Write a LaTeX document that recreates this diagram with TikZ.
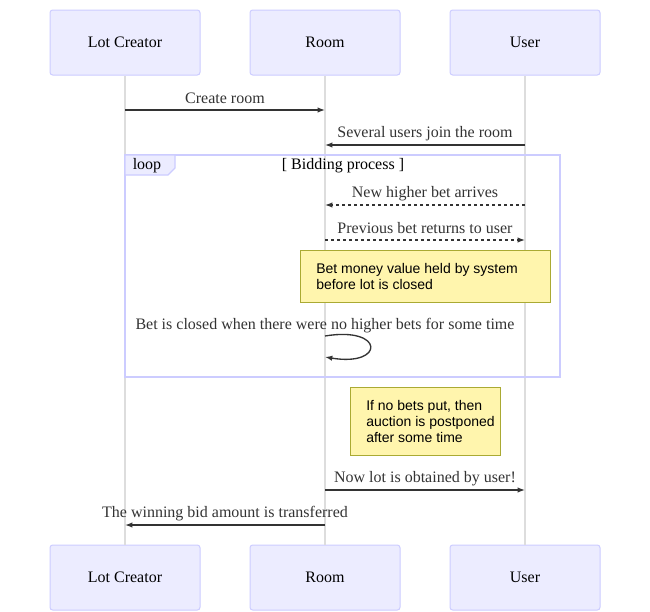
\documentclass[tikz,border=0pt]{standalone}
\usepackage{fontspec}
\setmainfont{Liberation Serif}
\setsansfont{Liberation Sans}
\usetikzlibrary{arrows.meta,positioning}

\definecolor{actfill}{HTML}{ECECFF}
\definecolor{actline}{HTML}{CCCCFF}
\definecolor{lifegray}{HTML}{DDDDDD}
\definecolor{msgline}{HTML}{333333}
\definecolor{notefill}{HTML}{FFF5AD}
\definecolor{noteline}{HTML}{AAAA33}

\tikzset{
  actor/.style={draw=actline,fill=actfill,rounded corners=2pt,minimum width=112.5pt,minimum height=48.75pt,font=\fontsize{12}{14}\selectfont,inner sep=0pt,line width=0.75pt},
  life/.style={draw=lifegray,line width=1.2pt},
  msg/.style={draw=msgline,line width=1pt,-{Latex[length=5.5pt,width=4pt]}},
  dmsg/.style={msg,dash pattern=on 2.25pt off 2.25pt},
  msglabel/.style={font=\fontsize{12}{14}\selectfont,text=msgline,inner sep=0pt},
  note/.style={draw=noteline,fill=notefill,line width=0.75pt,anchor=north west,inner sep=0pt},
  notetext/.style={font=\sffamily\fontsize{10.5}{12}\selectfont,align=left,anchor=north west,inner sep=0pt}
}

\begin{document}
\begin{tikzpicture}[x=0.75pt,y=-0.75pt]
\useasboundingbox (0,0) rectangle (650,611);

% actors, top and bottom
\foreach \n/\x/\t in {lot/125/Lot Creator,room/325/Room,user/525/User} {
\node[actor] (\n top) at (\x,42.5) {\t};
\node[actor] (\n bot) at (\x,577.5) {\t};
}

% lifelines
\foreach \n in {lot,room,user} {
\draw[life] (\n top.south) -- (\n bot.north);
};

% loop frame
\draw[actline,line width=1pt] (125,155) rectangle (560,377);
\draw[actline,fill=actfill,line width=1pt] (125,155) -- (175,155) -- (175,168) -- (168,175) -- (125,175) -- cycle;
\node (looplabel) at (147,165.5) [msglabel,text=black] {loop};
\node (looptitle) at (343,165.5) [msglabel,text=black] {[ Bidding process ]};

% message rows
\coordinate (l1) at (125,110); \coordinate (r1) at (325,110);
\coordinate (r2) at (325,145); \coordinate (u2) at (525,145);
\coordinate (r3) at (325,205); \coordinate (u3) at (525,205);
\coordinate (r4) at (325,240); \coordinate (u4) at (525,240);
\coordinate (s1) at (325,336); \coordinate (s2) at (325,357);
\coordinate (r5) at (325,490); \coordinate (u5) at (525,490);
\coordinate (l6) at (125,525); \coordinate (r6) at (325,525);

\draw[msg] (l1) -- (r1);
\draw[msg] (u2) -- (r2);
\draw[dmsg] (u3) -- (r3);
\draw[dmsg] (r4) -- (u4);
\draw[msg] (s1) .. controls (385,326) and (385,367) .. (s2);
\draw[msg] (r5) -- (u5);
\draw[msg] (r6) -- (l6);

\node (m1) at (225,98.5) [msglabel] {Create room};
\node (m2) at (425,133.5) [msglabel] {Several users join the room};
\node (m3) at (425,193.5) [msglabel] {New higher bet arrives};
\node (m4) at (425,228.5) [msglabel] {Previous bet returns to user};
\node (m5) at (325,325.5) [msglabel] {Bet is closed when there were no higher bets for some time};
\node (m6) at (425,478.5) [msglabel] {Now lot is obtained by user!};
\node (m7) at (225,513.5) [msglabel] {The winning bid amount is transferred};

% notes
\draw[note] (300,250) rectangle (550,302);
\node (n1) at (316,263) [notetext] {Bet money value held by system\\before lot is closed};
\draw[note] (350,387) rectangle (500,455);
\node (n2) at (366,400) [notetext] {If no bets put, then\\auction is postponed\\after some time};
\end{tikzpicture}
\end{document}
